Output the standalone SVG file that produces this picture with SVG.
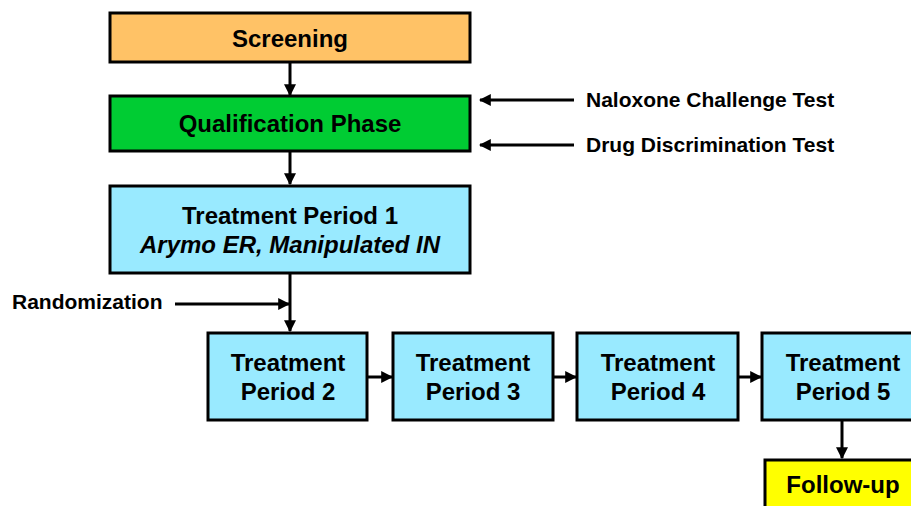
<svg xmlns="http://www.w3.org/2000/svg" width="911" height="506" viewBox="0 0 911 506">
<style>
.box{stroke:#000;stroke-width:3}
.t{font-family:"Liberation Sans",Arial,sans-serif;font-weight:bold;fill:#000}
.c{text-anchor:middle}
.ln{stroke:#000;stroke-width:3;fill:none}
</style>
<defs>
<marker id="ah" markerWidth="4" markerHeight="4" refX="3.6" refY="2" orient="auto" markerUnits="strokeWidth">
<path d="M0,0 L4,2 L0,4 Z" fill="#000"/>
</marker>
</defs>
<rect width="911" height="506" fill="#fff"/>
<g id="connectors">
<line class="ln" x1="290" y1="62" x2="290" y2="95" marker-end="url(#ah)"/>
<line class="ln" x1="290" y1="152" x2="290" y2="184" marker-end="url(#ah)"/>
<line class="ln" x1="290" y1="274" x2="290" y2="331" marker-end="url(#ah)"/>
<line class="ln" x1="175" y1="304" x2="289" y2="304" marker-end="url(#ah)"/>
<line class="ln" x1="574" y1="100" x2="480" y2="100" marker-end="url(#ah)"/>
<line class="ln" x1="574" y1="145" x2="480" y2="145" marker-end="url(#ah)"/>
<line class="ln" x1="367" y1="377" x2="392" y2="377" marker-end="url(#ah)"/>
<line class="ln" x1="553" y1="377" x2="576" y2="377" marker-end="url(#ah)"/>
<line class="ln" x1="738" y1="377" x2="761" y2="377" marker-end="url(#ah)"/>
<line class="ln" x1="842" y1="420" x2="842" y2="458" marker-end="url(#ah)"/>
</g>
<g id="screening">
<rect class="box" x="110" y="13" width="360" height="49" fill="#FFC266"/>
<text class="t c" x="290" y="47" font-size="24">Screening</text>
</g>
<g id="qualification">
<rect class="box" x="110" y="96" width="360" height="55" fill="#00CC33"/>
<text class="t c" x="290" y="132" font-size="24">Qualification Phase</text>
</g>
<g id="naloxone">
<text class="t" x="586" y="107" font-size="21">Naloxone Challenge Test</text>
</g>
<g id="drug">
<text class="t" x="586" y="152" font-size="21">Drug Discrimination Test</text>
</g>
<g id="tp1">
<rect class="box" x="110" y="186" width="360" height="87" fill="#99EAFF"/>
<text class="t c" x="290" y="224" font-size="24">Treatment Period 1</text>
<text class="t c" x="290" y="253" font-size="24" font-style="italic">Arymo ER, Manipulated IN</text>
</g>
<g id="randomization">
<text class="t" x="12" y="309" font-size="21">Randomization</text>
</g>
<g id="tp2">
<rect class="box" x="208" y="333" width="159" height="87" fill="#99EAFF"/>
<text class="t c" x="288" y="371" font-size="24">Treatment</text>
<text class="t c" x="288" y="400" font-size="24">Period 2</text>
</g>
<g id="tp3">
<rect class="box" x="393" y="333" width="160" height="87" fill="#99EAFF"/>
<text class="t c" x="473" y="371" font-size="24">Treatment</text>
<text class="t c" x="473" y="400" font-size="24">Period 3</text>
</g>
<g id="tp4">
<rect class="box" x="577" y="333" width="161" height="87" fill="#99EAFF"/>
<text class="t c" x="658" y="371" font-size="24">Treatment</text>
<text class="t c" x="658" y="400" font-size="24">Period 4</text>
</g>
<g id="tp5">
<rect class="box" x="762" y="333" width="161" height="87" fill="#99EAFF"/>
<text class="t c" x="843" y="371" font-size="24">Treatment</text>
<text class="t c" x="843" y="400" font-size="24">Period 5</text>
</g>
<g id="followup">
<rect class="box" x="765" y="460" width="160" height="60" fill="#FFFF00"/>
<text class="t c" x="843" y="493" font-size="24">Follow-up</text>
</g>
</svg>
